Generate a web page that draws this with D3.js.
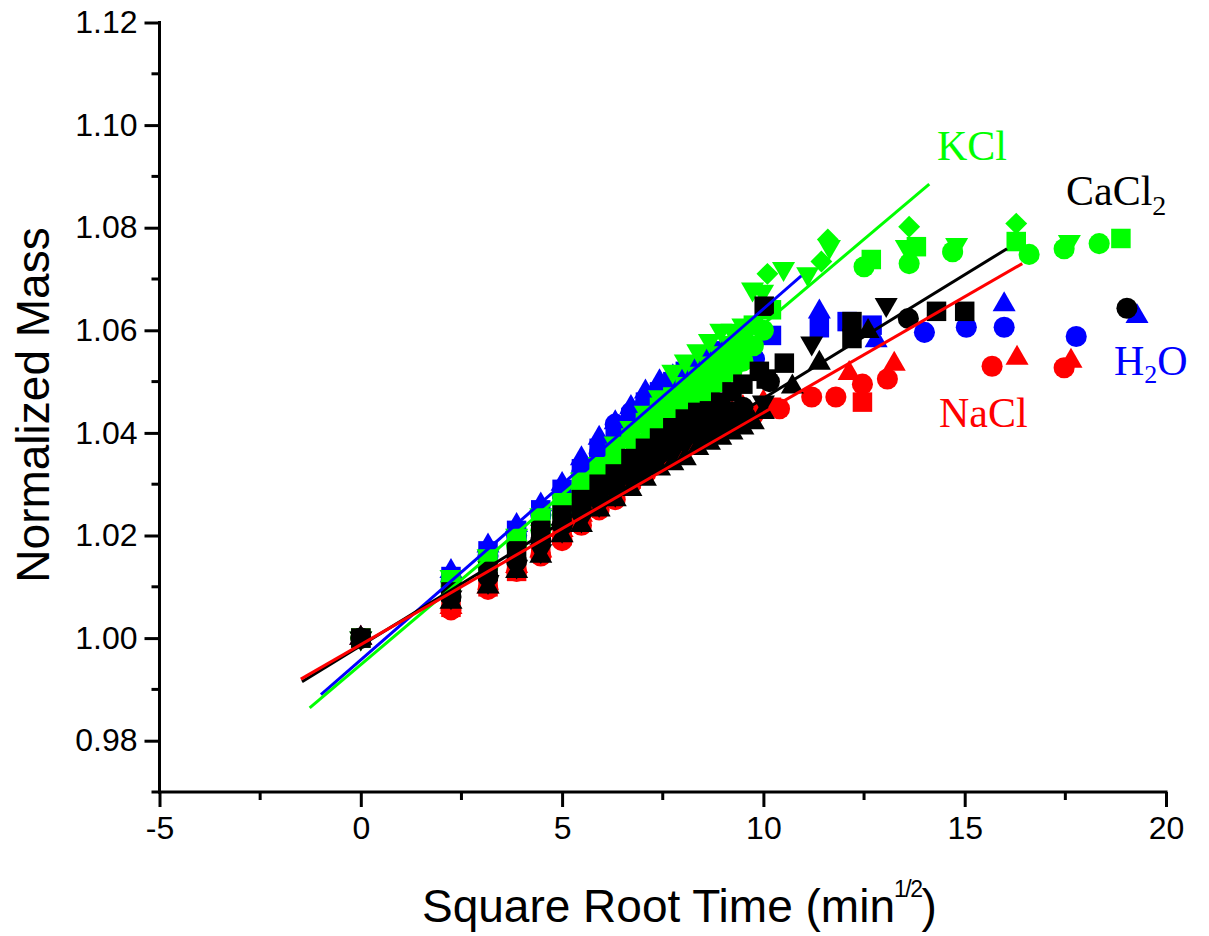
<!DOCTYPE html>
<html>
<head>
<meta charset="utf-8">
<script src="https://cdn.jsdelivr.net/npm/d3@7"></script>
<style>
  html, body { margin: 0; padding: 0; background: #fff; }
  svg { display: block; }
</style>
</head>
<body>
<svg id="chart" width="1209" height="936"></svg>
<script>
// ---------------- DATA ----------------
const xTicks = [-5, 0, 5, 10, 15, 20];
const xTickLabels = ["-5", "0", "5", "10", "15", "20"];
const yTicks = [0.98, 1.00, 1.02, 1.04, 1.06, 1.08, 1.10, 1.12];
const yTickLabels = ["0.98", "1.00", "1.02", "1.04", "1.06", "1.08", "1.10", "1.12"];

// common square-root-time readings (min^1/2)
const earlyTimes = [0, 2.24, 3.16, 3.87, 4.47, 5.00, 5.48, 5.92, 6.32, 6.71, 7.07, 7.42, 7.75, 8.06, 8.37, 8.66, 8.94, 9.22, 9.49];

// H2O (blue)
const h2oTriEarly = [1.000, 1.013, 1.018, 1.022, 1.026, 1.030, 1.035, 1.039, 1.042, 1.045, 1.048, 1.050, 1.051, 1.052, 1.053, 1.054, 1.055, 1.056, 1.057];
const h2oTriLateX = [11.39, 12.8, 15.98, 19.28];
const h2oTriLateY = [1.0636, 1.058, 1.065, 1.0627];
const h2oCircEarly = [1.000, 1.011, 1.016, 1.020, 1.024, 1.028, 1.032, 1.036, 1.0417, 1.044, 1.046, 1.048, 1.049, 1.050, 1.051, 1.052, 1.053, 1.054, 1.0544];
const h2oCircLateX = [9.78, 14.0, 15.04, 15.98, 17.77];
const h2oCircLateY = [1.0544, 1.0596, 1.0606, 1.0606, 1.0588];
const h2oSqEarly = [1.000, 1.012, 1.017, 1.021, 1.025, 1.029, 1.033, 1.037, 1.040, 1.043, 1.046, 1.048, 1.050, 1.052, 1.053, 1.055, 1.056, 1.057, 1.058];
const h2oSqLateX = [10.2, 11.39, 12.08, 12.7];
const h2oSqLateY = [1.059, 1.0605, 1.0617, 1.061];

// NaCl (red)
const naclCircEarly = [1.000, 1.0055, 1.0095, 1.013, 1.016, 1.019, 1.022, 1.025, 1.027, 1.030, 1.032, 1.034, 1.036, 1.038, 1.039, 1.040, 1.041, 1.042, 1.043];
const naclCircLateX = [9.75, 10.4, 11.2, 11.8, 12.46, 13.08, 15.68, 17.47];
const naclCircLateY = [1.0435, 1.0447, 1.047, 1.047, 1.0495, 1.0505, 1.053, 1.0527];
const naclTriEarly = [1.000, 1.006, 1.010, 1.014, 1.017, 1.021, 1.024, 1.027, 1.030, 1.032, 1.035, 1.037, 1.039, 1.040, 1.041, 1.042, 1.043, 1.044, 1.045];
const naclTriLateX = [10.0, 12.13, 13.25, 16.3, 17.64];
const naclTriLateY = [1.046, 1.0516, 1.0534, 1.0546, 1.054];
const naclSqEarly = [1.000, 1.006, 1.010, 1.013, 1.017, 1.020, 1.023, 1.026, 1.028, 1.031, 1.033, 1.035, 1.037, 1.039, 1.040, 1.041, 1.042, 1.043, 1.044];
const naclSqLateX = [10.2, 12.46];
const naclSqLateY = [1.045, 1.046];

// KCl (green)
const kclTriDownEarly = [1.000, 1.012, 1.016, 1.020, 1.024, 1.027, 1.031, 1.034, 1.038, 1.041, 1.044, 1.047, 1.052, 1.054, 1.056, 1.058, 1.060, 1.060, 1.061];
const kclTriDownLateX = [9.73, 9.98, 10.5, 11.1, 11.64, 13.55, 14.8, 17.6];
const kclTriDownLateY = [1.068, 1.0676, 1.072, 1.071, 1.0763, 1.0763, 1.0767, 1.0773];
const kclDiaEarly = [1.000, 1.011, 1.015, 1.019, 1.022, 1.026, 1.029, 1.032, 1.035, 1.038, 1.041, 1.043, 1.045, 1.047, 1.049, 1.051, 1.053, 1.055, 1.057];
const kclDiaLateX = [10.1, 11.44, 11.6, 13.62, 16.28];
const kclDiaLateY = [1.071, 1.0734, 1.0777, 1.0802, 1.0808];
const kclCircEarly = [1.000, 1.010, 1.014, 1.018, 1.021, 1.024, 1.027, 1.030, 1.033, 1.035, 1.038, 1.040, 1.042, 1.044, 1.046, 1.048, 1.050, 1.052, 1.054];
const kclCircLateX = [9.75, 10.0, 12.5, 13.62, 14.7, 16.6, 17.47, 18.34];
const kclCircLateY = [1.057, 1.060, 1.0724, 1.073, 1.0753, 1.0748, 1.0759, 1.0769];
const kclSqEarly = [1.000, 1.011, 1.015, 1.019, 1.023, 1.026, 1.030, 1.033, 1.036, 1.039, 1.042, 1.045, 1.047, 1.049, 1.051, 1.053, 1.055, 1.057, 1.059];
const kclSqLateX = [9.75, 10.2, 12.68, 13.8, 16.28, 18.88];
const kclSqLateY = [1.061, 1.064, 1.0738, 1.0763, 1.0773, 1.0779];

// CaCl2 (black)
const caclCircEarly = [1.000, 1.008, 1.012, 1.015, 1.019, 1.022, 1.025, 1.027, 1.030, 1.032, 1.034, 1.036, 1.038, 1.040, 1.041, 1.042, 1.043, 1.044, 1.045];
const caclCircLateX = [10.15, 13.6, 19.03];
const caclCircLateY = [1.050, 1.0623, 1.0643];
const caclSqEarly = [1.000, 1.009, 1.013, 1.017, 1.021, 1.024, 1.027, 1.030, 1.032, 1.035, 1.037, 1.039, 1.041, 1.0427, 1.044, 1.0443, 1.046, 1.048, 1.0495];
const caclSqLateX = [9.9, 10.02, 10.07, 10.52, 12.2, 12.2, 14.3, 15.0];
const caclSqLateY = [1.052, 1.0647, 1.0505, 1.0536, 1.0584, 1.0617, 1.0637, 1.0637];
const caclTriEarly = [1.000, 1.007, 1.010, 1.013, 1.016, 1.020, 1.022, 1.025, 1.027, 1.029, 1.031, 1.033, 1.034, 1.035, 1.037, 1.038, 1.039, 1.040, 1.041];
const caclTriLateX = [9.75, 10.0, 10.72, 11.39, 12.6];
const caclTriLateY = [1.042, 1.044, 1.049, 1.0536, 1.0598];
const caclTriDownEarly = [1.000, 1.008, 1.011, 1.014, 1.017, 1.021, 1.023, 1.026, 1.028, 1.031, 1.033, 1.035, 1.036, 1.038, 1.039, 1.040, 1.041, 1.042, 1.043];
const caclTriDownLateX = [10.0, 11.2, 13.05];
const caclTriDownLateY = [1.046, 1.0575, 1.065];

// Linear fits
const fitNames = ["H2O", "NaCl", "KCl", "CaCl2"];
const fitStartX = [-0.99, -1.49, -1.27, -1.46];
const fitStartY = [0.989, 0.992, 0.9864, 0.9915];
const fitEndX = [10.94, 16.43, 14.12, 16.05];
const fitEndY = [1.0706, 1.073, 1.0885, 1.0759];

// ---------------- BUILD ----------------
(function () {
const colors = { H2O: "#0000ff", NaCl: "#ff0000", KCl: "#00ff00", CaCl2: "#000000" };

function makeSeries(salt, shape, early, lateX, lateY) {
  const pts = early.map((v, i) => ({ x: earlyTimes[i], y: v }));
  lateX.forEach((xv, i) => pts.push({ x: xv, y: lateY[i] }));
  return { salt, shape, pts };
}

const series = [
  makeSeries("H2O", "circle", h2oCircEarly, h2oCircLateX, h2oCircLateY),
  makeSeries("H2O", "square", h2oSqEarly, h2oSqLateX, h2oSqLateY),
  makeSeries("H2O", "triUp", h2oTriEarly, h2oTriLateX, h2oTriLateY),
  makeSeries("NaCl", "square", naclSqEarly, naclSqLateX, naclSqLateY),
  makeSeries("NaCl", "circle", naclCircEarly, naclCircLateX, naclCircLateY),
  makeSeries("NaCl", "triUp", naclTriEarly, naclTriLateX, naclTriLateY),
  makeSeries("KCl", "circle", kclCircEarly, kclCircLateX, kclCircLateY),
  makeSeries("KCl", "square", kclSqEarly, kclSqLateX, kclSqLateY),
  makeSeries("KCl", "diamond", kclDiaEarly, kclDiaLateX, kclDiaLateY),
  makeSeries("KCl", "triDown", kclTriDownEarly, kclTriDownLateX, kclTriDownLateY),
  makeSeries("CaCl2", "triUp", caclTriEarly, caclTriLateX, caclTriLateY),
  makeSeries("CaCl2", "triDown", caclTriDownEarly, caclTriDownLateX, caclTriDownLateY),
  makeSeries("CaCl2", "circle", caclCircEarly, caclCircLateX, caclCircLateY),
  makeSeries("CaCl2", "square", caclSqEarly, caclSqLateX, caclSqLateY)
];

const svg = d3.select("#chart");
const mLeft = 159.5, mRight = 1166, mTop = 22.5, mBottom = 792;
const x = d3.scaleLinear().domain([-5, 20]).range([mLeft, mRight]);
const y = d3.scaleLinear().domain([0.97, 1.12]).range([mBottom, mTop]);

const symGen = {
  circle: d3.symbol().type(d3.symbolCircle).size(350)(),
  square: d3.symbol().type(d3.symbolSquare).size(380)(),
  triUp: d3.symbol().type(d3.symbolTriangle).size(230)(),
  triDown: d3.symbol().type(d3.symbolTriangle).size(230)(),
  diamond: d3.symbol().type(d3.symbolSquare).size(240)()
};
const rot = { circle: 0, square: 0, triUp: 0, triDown: 180, diamond: 45 };

const plot = svg.append("g");
series.forEach(s => {
  plot.append("g").selectAll("path").data(s.pts).join("path")
    .attr("d", symGen[s.shape])
    .attr("transform", d => `translate(${x(d.x)},${y(d.y)}) rotate(${rot[s.shape]})`)
    .attr("fill", colors[s.salt]);
});

// fit lines
[0, 2, 3, 1].forEach(i => {
  plot.append("line")
    .attr("x1", x(fitStartX[i])).attr("y1", y(fitStartY[i]))
    .attr("x2", x(fitEndX[i])).attr("y2", y(fitEndY[i]))
    .attr("stroke", colors[fitNames[i]])
    .attr("stroke-width", 3);
});

// ---------------- AXES ----------------
const axisFont = "'Liberation Sans', Arial, sans-serif";
const xAxis = d3.axisBottom(x).tickValues(xTicks).tickSize(15).tickFormat((d, i) => xTickLabels[i]);
const gx = svg.append("g").attr("transform", `translate(0,${mBottom})`).call(xAxis);
gx.select(".domain").attr("stroke", "#000").attr("stroke-width", 3).attr("d", `M${mLeft - 1.5},0H${mRight + 1.5}`);
gx.selectAll(".tick line").attr("stroke", "#000").attr("stroke-width", 3);
gx.selectAll(".tick text").attr("font-family", axisFont).attr("font-size", 32).attr("fill", "#000").attr("dy", "0.95em").attr("y", 17);
const xMinor = d3.range(-2.5, 20, 5);
gx.selectAll(".minor").data(xMinor).join("line").attr("class", "minor")
  .attr("x1", d => x(d)).attr("x2", d => x(d)).attr("y1", 0).attr("y2", 8)
  .attr("stroke", "#000").attr("stroke-width", 3);

const yAxis = d3.axisLeft(y).tickValues(yTicks).tickSize(15).tickFormat((d, i) => yTickLabels[i]);
const gy = svg.append("g").attr("transform", `translate(${mLeft},0)`).call(yAxis);
gy.select(".domain").attr("stroke", "#000").attr("stroke-width", 3).attr("d", `M0,${mTop - 1.5}V${mBottom + 1.5}`);
gy.selectAll(".tick line").attr("stroke", "#000").attr("stroke-width", 3);
gy.selectAll(".tick text").attr("font-family", axisFont).attr("font-size", 32).attr("fill", "#000").attr("x", -22);
const yMinor = [0.97, 0.99, 1.01, 1.03, 1.05, 1.07, 1.09, 1.11];
gy.selectAll(".minor").data(yMinor).join("line").attr("class", "minor")
  .attr("x1", 0).attr("x2", -8).attr("y1", d => y(d)).attr("y2", d => y(d))
  .attr("stroke", "#000").attr("stroke-width", 3);

// axis titles
svg.append("text")
  .attr("transform", "translate(49,405) rotate(-90)")
  .attr("text-anchor", "middle")
  .attr("font-family", axisFont).attr("font-size", 46).attr("fill", "#000")
  .text("Normalized Mass");

const xt = svg.append("text")
  .attr("x", 422).attr("y", 922)
  .attr("font-family", axisFont).attr("font-size", 46).attr("fill", "#000");
xt.append("tspan").text("Square Root Time (min");
xt.append("tspan").attr("font-size", 23).attr("letter-spacing", -1.5).attr("dy", -25).attr("dx", -1).text("1/2");
xt.append("tspan").attr("dy", 25).attr("dx", 0).text(")");

// series labels
const serif = "'Liberation Serif', 'Times New Roman', serif";
svg.append("text").attr("x", 937).attr("y", 160).attr("font-family", serif).attr("font-size", 42)
  .attr("fill", colors.KCl).text("KCl");
const ca = svg.append("text").attr("x", 1066).attr("y", 205).attr("font-family", serif).attr("font-size", 42)
  .attr("fill", colors.CaCl2);
ca.append("tspan").text("CaCl");
ca.append("tspan").attr("font-size", 28).attr("dy", 10).text("2");
const h = svg.append("text").attr("x", 1114).attr("y", 375).attr("font-family", serif).attr("font-size", 42)
  .attr("fill", colors.H2O);
h.append("tspan").text("H");
h.append("tspan").attr("font-size", 26).attr("dy", 8).text("2");
h.append("tspan").attr("dy", -8).text("O");
svg.append("text").attr("x", 939).attr("y", 427).attr("font-family", serif).attr("font-size", 42)
  .attr("fill", colors.NaCl).text("NaCl");
})();
</script>
</body>
</html>
